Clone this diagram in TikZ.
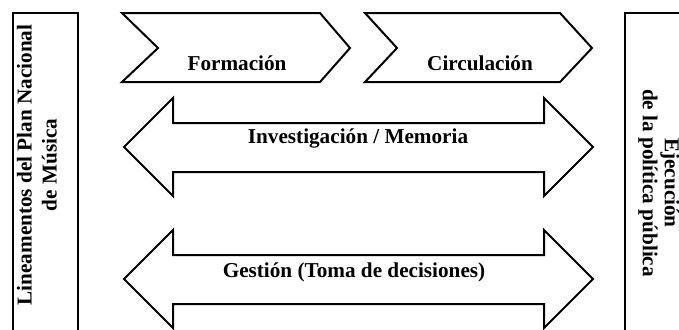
\documentclass[tikz,border=0pt]{standalone}
\usepackage{fontspec}
\setmainfont{Liberation Serif}
\usetikzlibrary{positioning}

\begin{document}
\begin{tikzpicture}[
        x=0.5pt, y=-0.5pt,
        shape line/.style={draw, line width=1pt, line join=miter},
        label text/.style={font=\fontsize{10.6}{12.5}\selectfont\bfseries, inner sep=0pt},
        side text/.style={label text, align=center}
    ]
    \useasboundingbox (0,0) rectangle (679,329);
    \clip (0,0) rectangle (679,329);

    \draw[shape line] (13,13) rectangle (78,340);
    \draw[shape line] (625,13) rectangle (690,340);

    \foreach \xl/\xn/\xr/\xt in {122/158/320/350, 365/397/560/592}
        \draw[shape line] (\xl,13) -- (\xr,13) -- (\xt,48) -- (\xr,82) -- (\xl,82) -- (\xn,48) -- cycle;

    \foreach \yc in {147, 279}
        \draw[shape line] (124,\yc) -- (173,\yc-49) -- (173,\yc-24) -- (544,\yc-24) -- (544,\yc-49) -- (593,\yc)
            -- (544,\yc+49) -- (544,\yc+25) -- (173,\yc+25) -- (173,\yc+49) -- cycle;

    \node[label text, anchor=base] (Formacion) at (237,70) {Formación};
    \node[label text, anchor=base] (Circulacion) at (480,70) {Circulación};
    \node[label text, anchor=base] (Investigacion) at (358,143) {Investigación / Memoria};
    \node[label text, anchor=base] (Gestion) at (354,277) {Gestión (Toma de decisiones)};
    \node[side text, rotate=90] (Lineamientos) at (37,165) {Lineamentos del Plan Nacional\\de Música};
    \node[side text, rotate=-90] (Ejecucion) at (659,183) {Ejecución\\[-1.5pt]de la política pública};
\end{tikzpicture}
\end{document}
